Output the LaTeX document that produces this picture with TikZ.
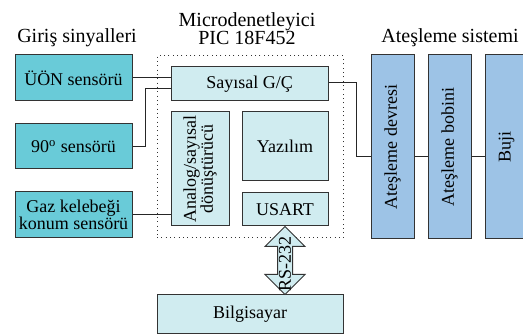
\documentclass[tikz,border=0pt]{standalone}
\usepackage{fontspec}
\setmainfont{Liberation Serif}
\newfontfamily\diagfont{Liberation Serif}
\usepackage{xcolor}
\usepackage{tikz}
\usetikzlibrary{calc}

\definecolor{sensorcolor}{HTML}{69CBD8}
\definecolor{mcucolor}{HTML}{D0ECF0}
\definecolor{ignitioncolor}{HTML}{9DC3E6}

\tikzset{
    boxbase/.style={draw=black!80, line width=0.6pt, inner sep=1pt, align=center,
        font=\diagfont\fontsize{10.8}{10.2}\selectfont},
    sensorbox/.style={boxbase, fill=sensorcolor},
    mcubox/.style={boxbase, fill=mcucolor},
    ignbox/.style={boxbase, fill=ignitioncolor, rotate=90},
    title/.style={align=center, font=\diagfont\fontsize{12}{10.8}\selectfont},
    wire/.style={black!85, line width=0.6pt},
    rsarrow/.style={draw=black!80, line width=0.6pt, fill=mcucolor, line join=miter}
}

\begin{document}
\begin{tikzpicture}[x=0.6pt, y=-0.6pt]
    % Dimensions
    \def\px{0.6pt}

    \useasboundingbox (0,0) rectangle (523,334);
    \clip (0,0) rectangle (523,334);

    % Titles
    \node[title] (tin) at (77,38) {Giriş sinyalleri};
    \node[title] (tmcu) at (247,29) {Microdenetleyici\\PIC 18F452};
    \node[title] (tign) at (450,38) {Ateşleme sistemi};

    % Input sensors
    \node[sensorbox, minimum width=117*\px, minimum height=46*\px] (uon) at (73.5,78) {ÜÖN sensörü};
    \node[sensorbox, minimum width=117*\px, minimum height=45*\px] (deg) at (73.5,146.5) {90\textsuperscript{o} sensörü};
    \node[sensorbox, minimum width=117*\px, minimum height=46*\px] (gaz) at (73.5,215) {Gaz kelebeği\\konum sensörü};

    % Microcontroller
    \node[draw=black!80, dotted, line width=0.6pt, minimum width=186*\px, minimum height=182*\px] (mcu) at (250,147) {};
    \node[mcubox, minimum width=157*\px, minimum height=34*\px] (io) at (249.5,84) {Sayısal G/Ç};
    \node[mcubox, rotate=90, minimum width=114*\px, minimum height=58*\px] (adc) at (200,169) {Analog/sayısal\\dönüştürücü};
    \node[mcubox, minimum width=86*\px, minimum height=69*\px] (sw) at (285,146.5) {Yazılım};
    \node[mcubox, minimum width=86*\px, minimum height=33*\px] (usart) at (285,209.5) {USART};
    \node[mcubox, minimum width=186*\px, minimum height=38*\px] (pc) at (250,314) {Bilgisayar};

    % Ignition system
    \node[ignbox, minimum width=184*\px, minimum height=43*\px] (circuit) at (392.5,147) {Ateşleme devresi};
    \node[ignbox, minimum width=184*\px, minimum height=43*\px] (coil) at (449.5,147) {Ateşleme bobini};
    \node[ignbox, minimum width=184*\px, minimum height=43*\px] (plug) at (506.5,147) {Buji};

    % Wires
    \coordinate (j90) at (145,89);
    \coordinate (jout) at (356,83);
    \coordinate (jign) at (356,157);
    \draw[wire] (uon.east) -- (uon.east -| io.west);
    \draw[wire] (deg.east) -| (j90) -- (j90 -| io.west);
    \draw[wire] (gaz.east) -- (gaz.east -| adc.north);
    \draw[wire] (jout -| io.east) -- (jout) -- (jign) -- (jign -| circuit.north);
    \draw[wire] (jign -| circuit.south) -- (jign -| coil.north);
    \draw[wire] (jign -| coil.south) -- (jign -| plug.north);

    % RS-232 link
    \coordinate (rsend) at (usart.south |- pc.north);
    \draw[rsarrow] (usart.south) -- ++(-20,20) -- ++(12.5,0)
        -- ($(rsend)+(-7.5,-20)$) -- ++(-12.5,0) -- (rsend)
        -- ++(20,-20) -- ++(-12.5,0) -- ($(usart.south)+(7.5,20)$)
        -- ++(12.5,0) -- cycle;
    \node[rotate=90, inner sep=0pt, font=\diagfont\fontsize{10.8}{12}\selectfont] (rs) at ($(usart.south)!0.55!(rsend)$) {RS-232};
\end{tikzpicture}
\end{document}
